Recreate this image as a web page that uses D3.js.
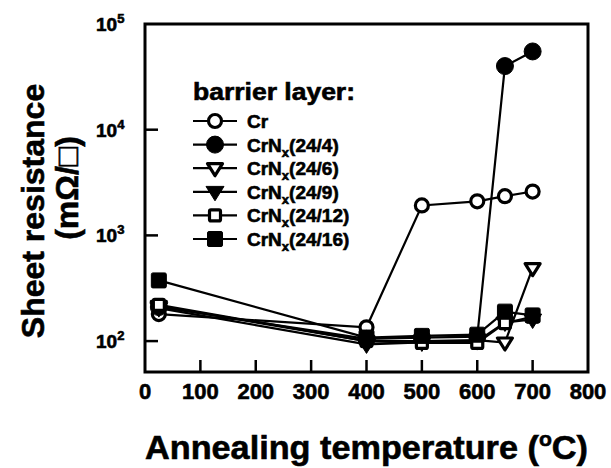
<!DOCTYPE html>
<html>
<head>
<meta charset="utf-8">
<script src="https://cdn.jsdelivr.net/npm/d3@7"></script>
<style>
  body { margin: 0; background: #fff; }
  text { font-family: "Liberation Sans", Arial, sans-serif; font-weight: bold; fill: #000; stroke: #000; stroke-width: 0.6px; }
</style>
</head>
<body>
<div id="chart"></div>
<script>
// Annealing temperatures (°C)
const temps = [25, 400, 500, 600, 650, 700];

// Sheet resistance (mOhm/sq) per barrier layer
const seriesNames = ['Cr', 'CrNx(24/4)', 'CrNx(24/6)', 'CrNx(24/9)', 'CrNx(24/12)', 'CrNx(24/16)'];
const crValues     = [180, 135, 1920, 2100, 2350, 2600];
const crn4Values   = [210, 105, 108, 110, 40000, 55000];
const crn6Values   = [215, 100, 100, 102, 97, 490];
const crn9Values   = [205, 93, 97, 100, 150, 160];
const crn12Values  = [220, 100, 96, 96, 148, 170];
const crn16Values  = [375, 108, 112, 115, 190, 175];

const xTicks = [0, 100, 200, 300, 400, 500, 600, 700, 800];
const yTicks = [2, 3, 4, 5];   // exponents of 10

const series = [
  { name: 'Cr',    sub: null,  rest: '',        values: crValues,    shape: 'circle',   filled: false },
  { name: 'CrN',   sub: 'x',   rest: '(24/4)',  values: crn4Values,  shape: 'circle',   filled: true },
  { name: 'CrN',   sub: 'x',   rest: '(24/6)',  values: crn6Values,  shape: 'triangle', filled: false },
  { name: 'CrN',   sub: 'x',   rest: '(24/9)',  values: crn9Values,  shape: 'triangle', filled: true },
  { name: 'CrN',   sub: 'x',   rest: '(24/12)', values: crn12Values, shape: 'square',   filled: false },
  { name: 'CrN',   sub: 'x',   rest: '(24/16)', values: crn16Values, shape: 'square',   filled: true }
];

const W = 611, H = 468;
const m = { left: 145, top: 24, right: 588, bottom: 372 };

const svg = d3.select('#chart').append('svg')
  .attr('width', W).attr('height', H);

const x = d3.scaleLinear().domain([0, 800]).range([m.left, m.right]);
const y = d3.scaleLog().domain([Math.pow(10, 2 - 31 / 106), 1e5]).range([m.bottom, m.top]);

// ticks (pointing inward)
svg.append('g').selectAll('line')
  .data(xTicks.filter(t => t > 0 && t < 800))
  .join('line')
  .attr('x1', d => x(d)).attr('x2', d => x(d))
  .attr('y1', m.bottom).attr('y2', m.bottom - 12)
  .attr('stroke', '#000').attr('stroke-width', 2.5);

svg.append('g').selectAll('line')
  .data(yTicks.filter(e => e < 5))
  .join('line')
  .attr('x1', m.left).attr('x2', m.left + 13)
  .attr('y1', d => y(Math.pow(10, d))).attr('y2', d => y(Math.pow(10, d)))
  .attr('stroke', '#000').attr('stroke-width', 2.5);

// frame
svg.append('rect')
  .attr('x', m.left).attr('y', m.top)
  .attr('width', m.right - m.left).attr('height', m.bottom - m.top)
  .attr('fill', 'none').attr('stroke', '#000').attr('stroke-width', 3);

// x tick labels
svg.append('g').selectAll('text')
  .data(xTicks)
  .join('text')
  .attr('x', d => x(d)).attr('y', 399)
  .attr('text-anchor', 'middle')
  .attr('font-size', 22)
  .text(d => d);

// y tick labels
const yl = svg.append('g').selectAll('text')
  .data(yTicks)
  .join('text')
  .attr('x', 96).attr('y', d => y(Math.pow(10, d)) + 7)
  .attr('font-size', 19);
yl.append('tspan').text('10');
yl.append('tspan').attr('font-size', 13).attr('dy', -8).text(d => d);

// axis titles
svg.append('text')
  .attr('x', m.left).attr('y', 459)
  .attr('font-size', 34)
  .attr('textLength', 443).attr('lengthAdjust', 'spacingAndGlyphs')
  .call(t => {
    t.append('tspan').text('Annealing temperature (');
    t.append('tspan').attr('font-size', 21).attr('dy', -13).text('o');
    t.append('tspan').attr('dy', 13).text('C)');
  });

svg.append('text')
  .attr('transform', 'translate(44,211) rotate(-90)')
  .attr('text-anchor', 'middle')
  .attr('font-size', 32)
  .text('Sheet resistance');

svg.append('text')
  .attr('transform', 'translate(78,188) rotate(-90)')
  .attr('text-anchor', 'middle')
  .attr('font-size', 32)
  .text('(m\u03A9/\u25A1)');

// markers
function drawMarker(g, shape, filled, cx, cy) {
  const fill = filled ? '#000' : '#fff';
  if (shape === 'circle') {
    const r = filled ? 8.5 : 6.5;
    g.append('circle').attr('cx', cx).attr('cy', cy).attr('r', r)
      .attr('fill', fill).attr('stroke', '#000').attr('stroke-width', filled ? 1 : 3.2);
  } else if (shape === 'square') {
    const s = filled ? 15 : 11;
    g.append('rect').attr('x', cx - s / 2).attr('y', cy - s / 2)
      .attr('width', s).attr('height', s).attr('rx', 1.5)
      .attr('fill', fill).attr('stroke', '#000').attr('stroke-width', filled ? 1 : 3.2);
  } else {
    const a = filled ? 9 : 7.5;
    const pts = [[cx - a, cy - a * 0.6], [cx + a, cy - a * 0.6], [cx, cy + a]];
    g.append('polygon').attr('points', pts.map(p => p.join(',')).join(' '))
      .attr('fill', fill).attr('stroke', '#000').attr('stroke-width', filled ? 1 : 3.2)
      .attr('stroke-linejoin', 'round');
  }
}

const line = d3.line().x(d => x(d[0])).y(d => y(d[1]));
const plot = svg.append('g');

series.forEach(s => {
  const pts = temps.map((t, i) => [t, s.values[i]]);
  plot.append('path')
    .attr('d', line(pts))
    .attr('fill', 'none').attr('stroke', '#000').attr('stroke-width', 2.2);
});
series.forEach(s => {
  const g = plot.append('g');
  temps.forEach((t, i) => drawMarker(g, s.shape, s.filled, x(t), y(s.values[i])));
});

// legend
svg.append('text')
  .attr('x', 193).attr('y', 100)
  .attr('font-size', 23)
  .attr('textLength', 162).attr('lengthAdjust', 'spacingAndGlyphs')
  .text('barrier layer:');

const legY0 = 121, legDy = 23.6;
series.forEach((s, i) => {
  const ly = legY0 + i * legDy;
  const g = svg.append('g');
  g.append('line').attr('x1', 193).attr('x2', 237).attr('y1', ly).attr('y2', ly)
    .attr('stroke', '#000').attr('stroke-width', 2.2);
  drawMarker(g, s.shape, s.filled, 215, ly);
  const t = g.append('text').attr('x', 247).attr('y', ly + 7).attr('font-size', 19);
  t.append('tspan').text(s.name);
  if (s.sub) {
    t.append('tspan').attr('font-size', 13).attr('dy', 5).text(s.sub);
    t.append('tspan').attr('dy', -5).text(s.rest);
  }
});
</script>
</body>
</html>
